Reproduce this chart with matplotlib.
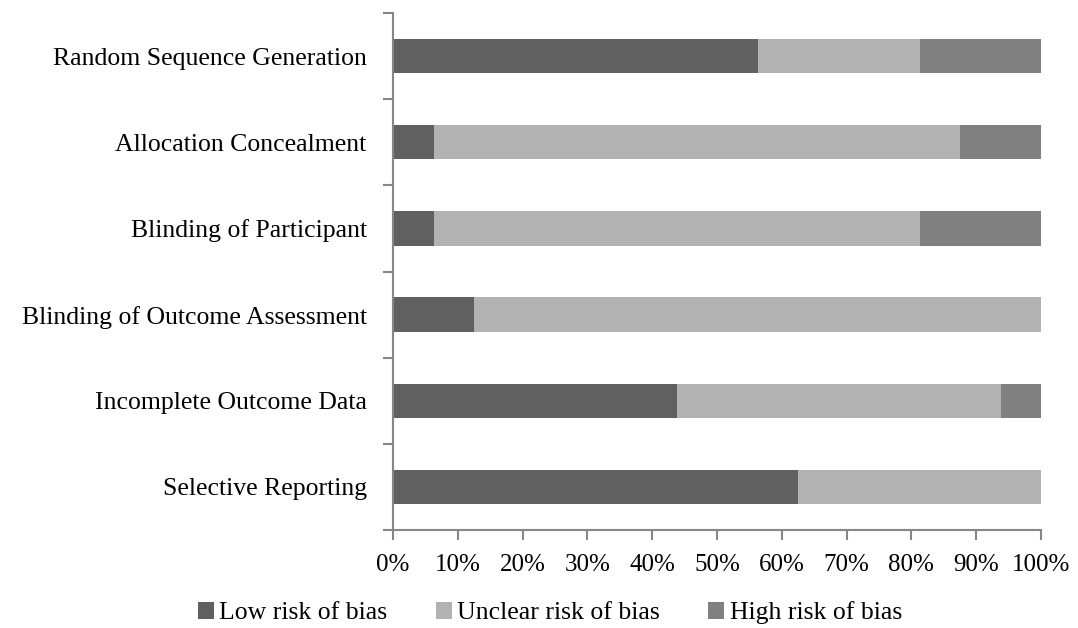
import matplotlib
matplotlib.use("Agg")
import matplotlib.pyplot as plt
from matplotlib.patches import Patch

categories = ["Random Sequence Generation", "Allocation Concealment", "Blinding of Participant",
              "Blinding of Outcome Assessment", "Incomplete Outcome Data", "Selective Reporting"]
low = [56.25, 6.25, 6.25, 12.5, 43.75, 62.5]
unclear = [25.0, 81.25, 75.0, 87.5, 50.0, 37.5]
high = [18.75, 12.5, 18.75, 0.0, 6.25, 0.0]
series_names = ["Low risk of bias", "Unclear risk of bias", "High risk of bias"]
colors = ["#606060", "#b2b2b2", "#808080"]
xtick_labels = ["0%", "10%", "20%", "30%", "40%", "50%", "60%", "70%", "80%", "90%", "100%"]

plt.rcParams["font.family"] = ["Liberation Serif", "DejaVu Serif"]

fig = plt.figure(figsize=(10.78, 6.28), dpi=100)
ax = fig.add_axes([0.3646, 0.156, 0.6011, 0.8233])

pos = list(range(len(categories)))[::-1]
left = [0] * len(categories)
for vals, name, col in zip([low, unclear, high], series_names, colors):
    ax.barh(pos, vals, left=left, height=0.4, color=col, label=name)
    left = [a + b for a, b in zip(left, vals)]

ax.set_xlim(0, 100)
ax.set_ylim(-0.5, len(categories) - 0.5)
ax.set_xticks(range(0, 101, 10))
ax.set_xticklabels(xtick_labels, fontsize=18)
ax.set_yticks([p - 0.5 for p in range(len(categories) + 1)])
ax.set_yticklabels([])
ax.set_yticks(pos, minor=True)
ax.set_yticklabels(categories, minor=True, fontsize=18.5)
ax.tick_params(axis="y", which="minor", length=0, pad=19)
ax.tick_params(axis="both", which="major", length=7, width=1.5, color="#868686")
ax.tick_params(axis="x", pad=10)

for s in ["top", "right"]:
    ax.spines[s].set_visible(False)
for s in ["left", "bottom"]:
    ax.spines[s].set_color("#868686")
    ax.spines[s].set_linewidth(1.5)

handles = [Patch(facecolor=c, label=n) for c, n in zip(colors, series_names)]
fig.legend(handles=handles, loc="center", bbox_to_anchor=(0.51, 0.024), ncol=3, frameon=False,
           fontsize=18.5, handlelength=0.62, handleheight=0.62, handletextpad=0.2,
           columnspacing=1.9, borderpad=0.1)

fig.savefig("out.png", dpi=100)
